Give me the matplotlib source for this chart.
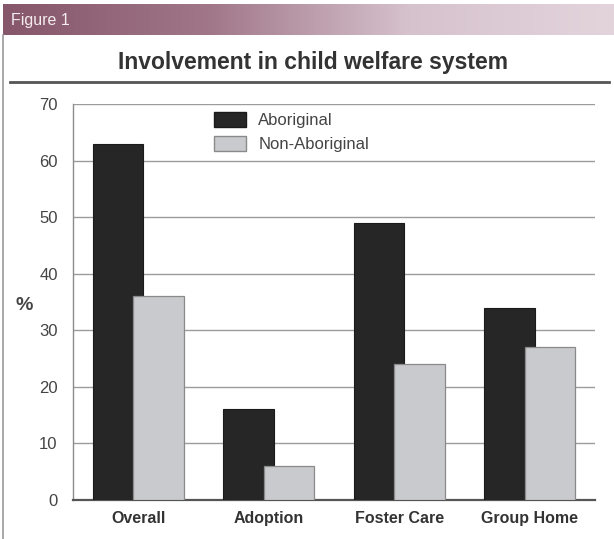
import numpy as np
import matplotlib
matplotlib.use("Agg")
import matplotlib.pyplot as plt
from matplotlib.colors import LinearSegmentedColormap
from matplotlib.lines import Line2D
from matplotlib.patches import Patch

categories = ["Overall", "Adoption", "Foster Care", "Group Home"]
aboriginal = [63, 16, 49, 34]
non_aboriginal = [36, 6, 24, 27]
series_names = ["Aboriginal", "Non-Aboriginal"]
yticks = [0, 10, 20, 30, 40, 50, 60, 70]

W, H = 614, 539
fig = plt.figure(figsize=(W / 100, H / 100), dpi=100)
fig.patch.set_facecolor("white")

sans = ["Liberation Sans", "DejaVu Sans"]

def fx(px):
    return px / W

def fy(py):
    return 1 - py / H

# Header gradient band
hax = fig.add_axes([fx(3), fy(35), fx(611), (35 - 4) / H])
cmap = LinearSegmentedColormap.from_list("hdr", ["#86566a", "#a07688", "#d6c2cd", "#e3d4dc"])
grad = np.linspace(0, 1, 256).reshape(1, -1)
hax.imshow(grad, aspect="auto", cmap=cmap, extent=[0, 1, 0, 1])
hax.set_axis_off()
fig.text(fx(11), fy(20), "Figure 1", color="#f4ecef", fontsize=11.5,
         family=sans, va="center", ha="left")

# Frame left line
fig.add_artist(Line2D([fx(2.5), fx(2.5)], [fy(35), fy(539)], color="#9a9a9a", lw=1.2))

# Title
fig.text(fx(313), fy(62), "Involvement in child welfare system", fontsize=16.5,
         fontweight="bold", family=sans, color="#333333", ha="center", va="center")
fig.add_artist(Line2D([fx(10), fx(609)], [fy(82), fy(82)], color="#555555", lw=2))

# Plot axes
AX_L, AX_R, AX_T, AX_B = 73, 595, 104, 500
ax = fig.add_axes([fx(AX_L), fy(AX_B), fx(AX_R - AX_L), (AX_B - AX_T) / H])
x = np.arange(len(categories))
w = 0.39
off = 0.155
ax.bar(x - off, aboriginal, width=w, color="#262626", edgecolor="#1a1a1a",
       linewidth=0.8, zorder=3, label=series_names[0])
ax.bar(x + off, non_aboriginal, width=w, color="#c9cacd", edgecolor="#8a8a8a",
       linewidth=0.9, zorder=4, label=series_names[1])

ax.set_xlim(-0.5, 3.5)
ax.set_ylim(0, 70)
ax.set_yticks(yticks)
ax.set_yticklabels([str(v) for v in yticks], family=sans, fontsize=12, color="#444444")
ax.set_xticks(x)
ax.set_xticklabels(categories, family=sans, fontsize=11.5, fontweight="bold", color="#333333")
ax.tick_params(axis="y", length=0, pad=11)
ax.tick_params(axis="x", length=0, pad=8)
ax.yaxis.grid(True, color="#9c9c9c", lw=1.0, zorder=0)
for s in ["top", "right"]:
    ax.spines[s].set_visible(False)
ax.spines["left"].set_color("#8c8c8c")
ax.spines["left"].set_linewidth(1.0)
ax.spines["bottom"].set_color("#555555")
ax.spines["bottom"].set_linewidth(1.6)
fig.text(fx(24), fy(305), "%", fontsize=14, family=sans, color="#444444",
         ha="center", va="center", fontweight="bold")

handles = [Patch(facecolor="#262626", edgecolor="#1a1a1a", label=series_names[0]),
           Patch(facecolor="#c9cacd", edgecolor="#8a8a8a", label=series_names[1])]
leg = ax.legend(handles=handles, loc="upper left",
                bbox_to_anchor=((214 - AX_L) / (AX_R - AX_L), 1 - (112 - AX_T) / (AX_B - AX_T)),
                frameon=False, prop={"family": sans, "size": 12},
                borderpad=0, borderaxespad=0,
                handlelength=1.9, handleheight=1.0, handletextpad=0.75, labelspacing=0.45)
for t in leg.get_texts():
    t.set_color("#444444")

fig.savefig("out.png", dpi=100, facecolor="white")
